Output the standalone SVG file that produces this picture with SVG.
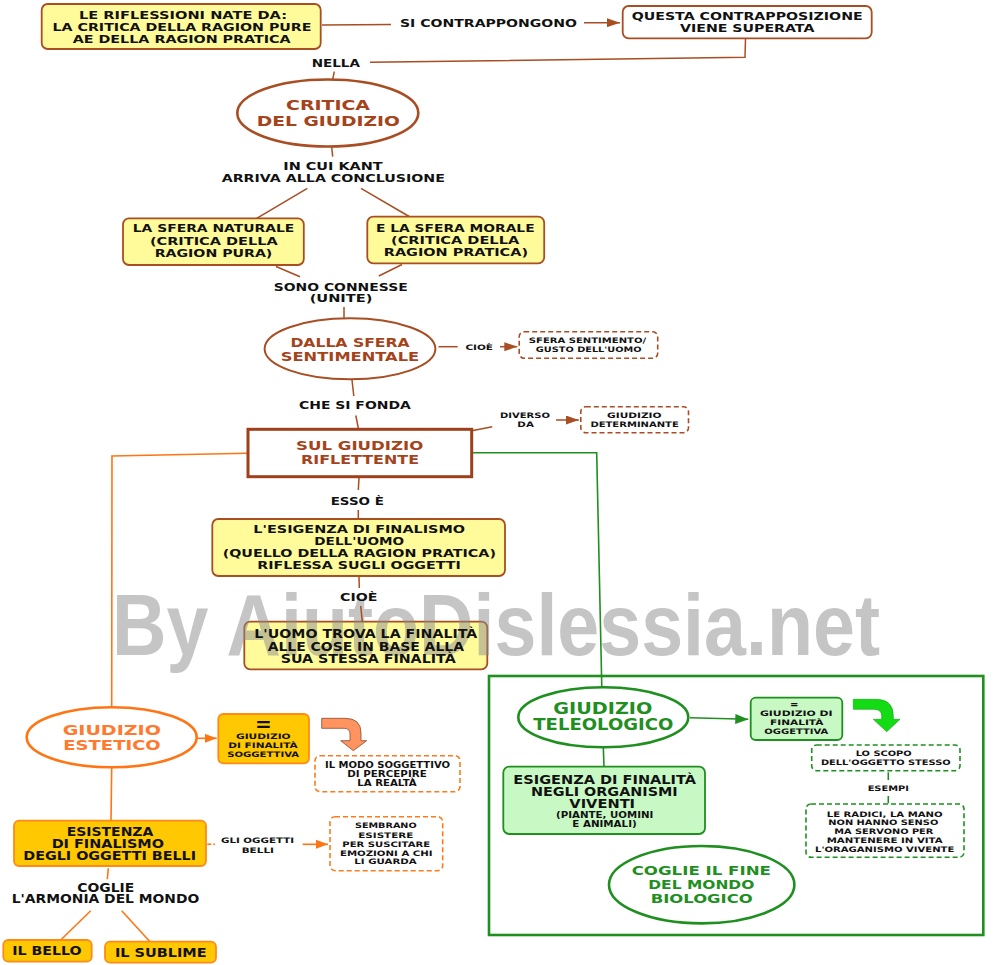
<svg xmlns="http://www.w3.org/2000/svg" width="994" height="965" viewBox="0 0 994 965">
<style>
text{font-family:"DejaVu Sans",Verdana,sans-serif;font-weight:bold;text-anchor:middle;fill:#111}
.s11{font-size:11px}.s10{font-size:10.5px}.s115{font-size:11.5px}.s12{font-size:12px}.s13{font-size:13px}.s8{font-size:8px}.s75{font-size:7.5px}
.br{fill:#A5431A}.or{fill:#FF7A2E}.gr{fill:#1F8F1F}
.yb{fill:#FFFB9B;stroke:#A94D22;stroke-width:1.8}
.wb{fill:#fff;stroke:#A94D22;stroke-width:1.8}
.bd{fill:#fff;stroke:#A94D22;stroke-width:1.6;stroke-dasharray:5 3}
.gb{fill:#FFC800;stroke:#FF8A1A;stroke-width:1.8}
.od{fill:#fff;stroke:#FF7A1A;stroke-width:1.6;stroke-dasharray:5 3}
.lg{fill:#C8F8C4;stroke:#1F8F1F;stroke-width:1.8}
.gd{fill:#fff;stroke:#1F8F1F;stroke-width:1.6;stroke-dasharray:5 3}
.lb{fill:none;stroke:#A94D22;stroke-width:1.5}
.lo{fill:none;stroke:#FF7514;stroke-width:1.6}
.lgn{fill:none;stroke:#1F8F1F;stroke-width:1.6}
.wm{font-family:"Liberation Sans",Arial,sans-serif;font-size:88px;text-anchor:start;fill:#8C8C8C;opacity:0.5}
</style>
<defs>
<marker id="ab" viewBox="0 0 10 10" refX="10" refY="5" markerWidth="13" markerHeight="9" markerUnits="userSpaceOnUse" orient="auto" preserveAspectRatio="none"><path d="M0,0 L10,5 L0,10 z" fill="#A94D22"/></marker>
<marker id="ao" viewBox="0 0 10 10" refX="10" refY="5" markerWidth="12" markerHeight="9" markerUnits="userSpaceOnUse" orient="auto" preserveAspectRatio="none"><path d="M0,0 L10,5 L0,10 z" fill="#FF7514"/></marker>
<marker id="ag" viewBox="0 0 10 10" refX="10" refY="5" markerWidth="13" markerHeight="10" markerUnits="userSpaceOnUse" orient="auto" preserveAspectRatio="none"><path d="M0,0 L10,5 L0,10 z" fill="#1F8F1F"/></marker>
</defs>
<rect width="994" height="965" fill="#fff"/>

<g id="uomo-finalita">
<rect class="yb" x="244.3" y="621.7" width="243" height="47.6" rx="6"/>
<text class="wm" x="112" y="655" textLength="768" lengthAdjust="spacingAndGlyphs">By AiutoDislessia.net</text>
<text class="s115" x="365.8" y="638.3" textLength="223" lengthAdjust="spacingAndGlyphs">L'UOMO TROVA LA FINALITÀ</text>
<text class="s115" x="365.8" y="650.7" textLength="196.3" lengthAdjust="spacingAndGlyphs">ALLE COSE IN BASE ALLA</text>
<text class="s115" x="368.2" y="662.7" textLength="175" lengthAdjust="spacingAndGlyphs">SUA STESSA FINALITÀ</text>
</g>

<g id="connectors">
<polyline class="lb" points="322,25 391,24.5"/>
<line class="lb" x1="584" y1="22.7" x2="620" y2="22.7" marker-end="url(#ab)"/>
<polyline class="lb" points="745.5,38.5 745,57.3 370,62.3"/>
<line class="lb" x1="334.3" y1="71.7" x2="332.7" y2="79.3"/>
<line class="lb" x1="331.7" y1="147" x2="332.7" y2="156.7"/>
<line class="lb" x1="307.3" y1="188.3" x2="256.7" y2="218.3"/>
<line class="lb" x1="361" y1="188.3" x2="410" y2="217"/>
<line class="lb" x1="276" y1="266.5" x2="300" y2="276.7"/>
<line class="lb" x1="402" y1="264.5" x2="378.8" y2="276"/>
<line class="lb" x1="344" y1="307" x2="344" y2="318.3"/>
<line class="lb" x1="438.5" y1="346.7" x2="457.7" y2="346.7"/>
<line class="lb" x1="500" y1="346.7" x2="517.3" y2="346.7" marker-end="url(#ab)"/>
<line class="lb" x1="352" y1="380" x2="353.8" y2="396"/>
<line class="lb" x1="355.8" y1="415.5" x2="358.5" y2="429"/>
<line class="lb" x1="473" y1="430.5" x2="492.3" y2="426.7"/>
<line class="lb" x1="556" y1="420" x2="578.8" y2="420" marker-end="url(#ab)"/>
<line class="lb" x1="359" y1="478" x2="358.3" y2="490"/>
<line class="lb" x1="358.3" y1="510" x2="358.3" y2="519"/>
<line class="lb" x1="359" y1="576.7" x2="359.3" y2="588"/>
<line class="lb" x1="360.7" y1="606" x2="362.3" y2="621.7"/>
<polyline class="lo" points="247,453.3 112,456 111.7,707.3"/>
<polyline class="lgn" points="471.7,452.7 596.7,452.7 601.8,687.3"/>
<line class="lo" x1="197.5" y1="738.3" x2="216.7" y2="738.3" marker-end="url(#ao)"/>
<line class="lo" x1="111.7" y1="767.3" x2="111" y2="820.7"/>
<line class="lo" x1="207.3" y1="844.3" x2="215" y2="844.3" stroke-dasharray="4 2"/>
<line class="lo" x1="302.7" y1="844.3" x2="328" y2="844.3" marker-end="url(#ao)"/>
<line class="lo" x1="108.3" y1="868.3" x2="107.3" y2="879.3"/>
<line class="lo" x1="90.7" y1="910.7" x2="60.7" y2="940"/>
<line class="lo" x1="121.7" y1="910.7" x2="150" y2="941.7"/>
<line class="lgn" x1="690" y1="717.7" x2="748.3" y2="719.3" marker-end="url(#ag)"/>
<line class="lgn" x1="888.3" y1="772.3" x2="888.3" y2="780"/>
<line class="lgn" x1="888.3" y1="796" x2="888.3" y2="803.3"/>
<line class="lgn" x1="603.3" y1="747.3" x2="604" y2="766.7"/>
<path d="M321.7,718.3 L345,718.3 Q361,718.3 361,733 L361,740.7 L366.7,740.7 L353.3,750.7 L340.7,740.7 L350,740.7 L350,734 Q350,728.3 344,728.3 L321.7,728.3 Z" fill="#FF9460" stroke="#8A4A2A" stroke-width="0.8"/>
<path d="M853.3,699.3 L876,699.3 Q893.3,699.3 893.3,716 L893.3,719.3 L900,719.3 L886.7,731.7 L873.3,719.3 L881.7,719.3 L881.7,716 Q881.7,709.3 874,709.3 L853.3,709.3 Z" fill="#14DC14" stroke="#0BA00B" stroke-width="0.6"/>
<text class="s11" x="488.5" y="27.3" textLength="177" lengthAdjust="spacingAndGlyphs">SI CONTRAPPONGONO</text>
<text class="s11" x="335.8" y="66.5" textLength="48.3" lengthAdjust="spacingAndGlyphs">NELLA</text>
<text class="s11" x="333" y="170" textLength="99.4" lengthAdjust="spacingAndGlyphs">IN CUI KANT</text>
<text class="s11" x="333.3" y="182.3" textLength="223.3" lengthAdjust="spacingAndGlyphs">ARRIVA ALLA CONCLUSIONE</text>
<text class="s11" x="340.7" y="290.7" textLength="133.9" lengthAdjust="spacingAndGlyphs">SONO CONNESSE</text>
<text class="s11" x="341" y="302.3" textLength="62.7" lengthAdjust="spacingAndGlyphs">(UNITE)</text>
<text class="s75" x="479.2" y="350" textLength="27.6" lengthAdjust="spacingAndGlyphs">CIOÈ</text>
<text class="s11" x="354.9" y="409.3" textLength="111.8" lengthAdjust="spacingAndGlyphs">CHE SI FONDA</text>
<text class="s75" x="525" y="418.3" textLength="50" lengthAdjust="spacingAndGlyphs">DIVERSO</text>
<text class="s75" x="525.6" y="427.3" textLength="16.5" lengthAdjust="spacingAndGlyphs">DA</text>
<text class="s11" x="357.3" y="504.5" textLength="53.3" lengthAdjust="spacingAndGlyphs">ESSO È</text>
<text class="s11" x="358.7" y="601" textLength="37.3" lengthAdjust="spacingAndGlyphs">CIOÈ</text>
<text class="s75" x="257.5" y="843.3" textLength="73" lengthAdjust="spacingAndGlyphs">GLI OGGETTI</text>
<text class="s75" x="257.8" y="852.7" textLength="32.3" lengthAdjust="spacingAndGlyphs">BELLI</text>
<text class="s115" x="105.8" y="891.7" textLength="57" lengthAdjust="spacingAndGlyphs">COGLIE</text>
<text class="s115" x="105.5" y="903.3" textLength="187.6" lengthAdjust="spacingAndGlyphs">L'ARMONIA DEL MONDO</text>
<text class="s75" x="888.3" y="790.7" textLength="41.3" lengthAdjust="spacingAndGlyphs">ESEMPI</text>
</g>

<g id="riflessioni">
<rect class="yb" x="41.7" y="4" width="279" height="45" rx="6"/>
<text class="s11" x="183" y="19" textLength="208" lengthAdjust="spacingAndGlyphs">LE RIFLESSIONI NATE DA:</text>
<text class="s11" x="182" y="30.7" textLength="259" lengthAdjust="spacingAndGlyphs">LA CRITICA DELLA RAGION PURE</text>
<text class="s11" x="181.7" y="42.7" textLength="218" lengthAdjust="spacingAndGlyphs">AE DELLA RAGION PRATICA</text>
</g>
<g id="contrapposizione">
<rect class="wb" x="622.7" y="6" width="249" height="32.3" rx="6"/>
<text class="s10" x="747.2" y="20" textLength="231" lengthAdjust="spacingAndGlyphs">QUESTA CONTRAPPOSIZIONE</text>
<text class="s10" x="747.2" y="32.3" textLength="134.3" lengthAdjust="spacingAndGlyphs">VIENE SUPERATA</text>
</g>
<g id="critica-giudizio">
<ellipse cx="327.8" cy="113" rx="90.5" ry="33.5" fill="#fff" stroke="#A94D22" stroke-width="2.6"/>
<text class="br" style="font-size:14.5px" x="328" y="110" textLength="84" lengthAdjust="spacingAndGlyphs">CRITICA</text>
<text class="br" style="font-size:14.5px" x="328.3" y="125.7" textLength="143.3" lengthAdjust="spacingAndGlyphs">DEL GIUDIZIO</text>
</g>
<g id="sfera-naturale">
<rect class="yb" x="123" y="218.3" width="180.8" height="46.7" rx="6"/>
<text class="s11" x="213.5" y="232.3" textLength="161.5" lengthAdjust="spacingAndGlyphs">LA SFERA NATURALE</text>
<text class="s11" x="213.8" y="245" textLength="127.7" lengthAdjust="spacingAndGlyphs">(CRITICA DELLA</text>
<text class="s11" x="213.5" y="257.3" textLength="117.7" lengthAdjust="spacingAndGlyphs">RAGION PURA)</text>
</g>
<g id="sfera-morale">
<rect class="yb" x="367.3" y="216.7" width="176.9" height="46.6" rx="6"/>
<text class="s11" x="455.3" y="231.7" textLength="158.6" lengthAdjust="spacingAndGlyphs">E LA SFERA MORALE</text>
<text class="s11" x="455.1" y="244" textLength="128.2" lengthAdjust="spacingAndGlyphs">(CRITICA DELLA</text>
<text class="s11" x="455.9" y="256" textLength="144.2" lengthAdjust="spacingAndGlyphs">RAGION PRATICA)</text>
</g>
<g id="sfera-sentimentale">
<ellipse cx="350" cy="348.8" rx="85.4" ry="30.5" fill="#fff" stroke="#A94D22" stroke-width="2"/>
<text class="br" style="font-size:12.5px" x="350" y="346.7" textLength="119.2" lengthAdjust="spacingAndGlyphs">DALLA SFERA</text>
<text class="br" style="font-size:12.5px" x="350" y="361" textLength="138.4" lengthAdjust="spacingAndGlyphs">SENTIMENTALE</text>
</g>
<g id="sentimento-gusto">
<rect class="bd" x="519.2" y="331.7" width="138.5" height="26.6" rx="5"/>
<text class="s75" x="587.5" y="343.3" textLength="117.4" lengthAdjust="spacingAndGlyphs">SFERA SENTIMENTO/</text>
<text class="s75" x="588.7" y="352.3" textLength="105.7" lengthAdjust="spacingAndGlyphs">GUSTO DELL'UOMO</text>
</g>
<g id="giudizio-determinante">
<rect class="bd" x="580.8" y="406.7" width="107.7" height="26" rx="5"/>
<text class="s75" x="634.3" y="418.3" textLength="54.5" lengthAdjust="spacingAndGlyphs">GIUDIZIO</text>
<text class="s75" x="634.6" y="427.3" textLength="88.4" lengthAdjust="spacingAndGlyphs">DETERMINANTE</text>
</g>
<g id="giudizio-riflettente">
<rect x="248" y="429.3" width="223.7" height="47.4" fill="#fff" stroke="#A0401A" stroke-width="3"/>
<text class="br s13" x="359.7" y="450" textLength="127.3" lengthAdjust="spacingAndGlyphs">SUL GIUDIZIO</text>
<text class="br s13" x="360" y="464" textLength="118" lengthAdjust="spacingAndGlyphs">RIFLETTENTE</text>
</g>
<g id="esigenza-finalismo">
<rect class="yb" x="212.3" y="519" width="292.7" height="57" rx="6"/>
<text class="s10" x="359.2" y="533.3" textLength="211.7" lengthAdjust="spacingAndGlyphs">L'ESIGENZA DI FINALISMO</text>
<text class="s10" x="359.2" y="545" textLength="89.7" lengthAdjust="spacingAndGlyphs">DELL'UOMO</text>
<text class="s10" x="359.3" y="557.3" textLength="273.3" lengthAdjust="spacingAndGlyphs">(QUELLO DELLA RAGION PRATICA)</text>
<text class="s10" x="359" y="569.3" textLength="203.4" lengthAdjust="spacingAndGlyphs">RIFLESSA SUGLI OGGETTI</text>
</g>

<g id="giudizio-estetico">
<ellipse cx="111.7" cy="737.3" rx="85" ry="30" fill="#fff" stroke="#FF7514" stroke-width="2.6"/>
<text class="or" style="font-size:14px" x="111.8" y="735" textLength="98.3" lengthAdjust="spacingAndGlyphs">GIUDIZIO</text>
<text class="or" style="font-size:14px" x="112" y="750" textLength="97.4" lengthAdjust="spacingAndGlyphs">ESTETICO</text>
</g>
<g id="finalita-soggettiva">
<rect class="gb" x="218.3" y="714" width="90.7" height="49.3" rx="5"/>
<text style="font-size:20px" x="263.3" y="730.5">=</text>
<text class="s75" x="263.3" y="739.3" textLength="54.7" lengthAdjust="spacingAndGlyphs">GIUDIZIO</text>
<text class="s75" x="263" y="747.7" textLength="69.4" lengthAdjust="spacingAndGlyphs">DI FINALITÀ</text>
<text class="s75" x="263.2" y="756.7" textLength="71.7" lengthAdjust="spacingAndGlyphs">SOGGETTIVA</text>
</g>
<g id="modo-soggettivo">
<rect class="od" x="315" y="755.7" width="145" height="36" rx="5"/>
<text class="s8" x="387.5" y="767.7" textLength="125" lengthAdjust="spacingAndGlyphs">IL MODO SOGGETTIVO</text>
<text class="s8" x="387" y="776.7" textLength="79.4" lengthAdjust="spacingAndGlyphs">DI PERCEPIRE</text>
<text class="s8" x="387" y="785.7" textLength="59.4" lengthAdjust="spacingAndGlyphs">LA REALTÀ</text>
</g>
<g id="esistenza-finalismo">
<rect class="gb" x="14" y="820.7" width="192" height="45.3" rx="5"/>
<text class="s12" x="110" y="835.7" textLength="86.6" lengthAdjust="spacingAndGlyphs">ESISTENZA</text>
<text class="s12" x="107.8" y="847.7" textLength="112.3" lengthAdjust="spacingAndGlyphs">DI FINALISMO</text>
<text class="s12" x="109.7" y="860" textLength="172.7" lengthAdjust="spacingAndGlyphs">DEGLI OGGETTI BELLI</text>
</g>
<g id="sembrano-esistere">
<rect class="od" x="330" y="816.7" width="112.7" height="54" rx="5"/>
<text class="s75" x="385.8" y="828.3" textLength="61.7" lengthAdjust="spacingAndGlyphs">SEMBRANO</text>
<text class="s75" x="385.8" y="837.7" textLength="55" lengthAdjust="spacingAndGlyphs">ESISTERE</text>
<text class="s75" x="386.2" y="846.7" textLength="87.7" lengthAdjust="spacingAndGlyphs">PER SUSCITARE</text>
<text class="s75" x="386.3" y="855.7" textLength="92.7" lengthAdjust="spacingAndGlyphs">EMOZIONI A CHI</text>
<text class="s75" x="385.5" y="864.3" textLength="62.4" lengthAdjust="spacingAndGlyphs">LI GUARDA</text>
</g>
<g id="il-bello">
<rect class="gb" x="3.3" y="940" width="88.4" height="21.7" rx="5"/>
<text class="s115" x="47" y="955" textLength="69.4" lengthAdjust="spacingAndGlyphs">IL BELLO</text>
</g>
<g id="il-sublime">
<rect class="gb" x="105" y="941.7" width="111" height="21" rx="5"/>
<text class="s115" x="160.8" y="956.7" textLength="91.7" lengthAdjust="spacingAndGlyphs">IL SUBLIME</text>
</g>

<g id="area-teleologica">
<rect x="489" y="676" width="494.3" height="259" fill="none" stroke="#1F8F1F" stroke-width="2.6"/>
</g>
<g id="giudizio-teleologico">
<ellipse cx="603.3" cy="717.3" rx="85" ry="30" fill="#fff" stroke="#1F8F1F" stroke-width="2.6"/>
<text class="gr" style="font-size:15px" x="602.8" y="714.3" textLength="99" lengthAdjust="spacingAndGlyphs">GIUDIZIO</text>
<text class="gr" style="font-size:15px" x="603.3" y="730" textLength="140" lengthAdjust="spacingAndGlyphs">TELEOLOGICO</text>
</g>
<g id="finalita-oggettiva">
<rect class="lg" x="750.7" y="697.7" width="91.6" height="42.3" rx="5"/>
<text style="font-size:10px" x="794.3" y="708.3">=</text>
<text class="s75" x="796.3" y="716" textLength="72.7" lengthAdjust="spacingAndGlyphs">GIUDIZIO DI</text>
<text class="s75" x="796.7" y="725" textLength="53.3" lengthAdjust="spacingAndGlyphs">FINALITÀ</text>
<text class="s75" x="796.3" y="734" textLength="64" lengthAdjust="spacingAndGlyphs">OGGETTIVA</text>
</g>
<g id="scopo-oggetto">
<rect class="gd" x="811.7" y="745" width="148.3" height="25.7" rx="5"/>
<text class="s75" x="883.7" y="756" textLength="56" lengthAdjust="spacingAndGlyphs">LO SCOPO</text>
<text class="s75" x="885.8" y="765" textLength="129.7" lengthAdjust="spacingAndGlyphs">DELL'OGGETTO STESSO</text>
</g>
<g id="esempi-radici">
<rect class="gd" x="806" y="804" width="158" height="53.3" rx="5"/>
<text class="s75" x="884.7" y="816.7" textLength="116" lengthAdjust="spacingAndGlyphs">LE RADICI, LA MANO</text>
<text class="s75" x="883.3" y="825" textLength="110" lengthAdjust="spacingAndGlyphs">NON HANNO SENSO</text>
<text class="s75" x="883.8" y="834" textLength="99" lengthAdjust="spacingAndGlyphs">MA SERVONO PER</text>
<text class="s75" x="884.7" y="842.7" textLength="116" lengthAdjust="spacingAndGlyphs">MANTENERE IN VITA</text>
<text class="s75" x="884.7" y="851.7" textLength="139.3" lengthAdjust="spacingAndGlyphs">L'ORAGANISMO VIVENTE</text>
</g>
<g id="esigenza-organismi">
<rect class="lg" x="503.3" y="766.7" width="201.7" height="67.3" rx="6"/>
<text class="s115" x="604.7" y="784" textLength="182.7" lengthAdjust="spacingAndGlyphs">ESIGENZA DI FINALITÀ</text>
<text class="s115" x="604.3" y="796" textLength="146.7" lengthAdjust="spacingAndGlyphs">NEGLI ORGANISMI</text>
<text class="s115" x="602.2" y="808.3" textLength="65.7" lengthAdjust="spacingAndGlyphs">VIVENTI</text>
<text class="s8" x="604.7" y="817.7" textLength="97.3" lengthAdjust="spacingAndGlyphs">(PIANTE, UOMINI</text>
<text class="s8" x="604.5" y="826.7" textLength="64.4" lengthAdjust="spacingAndGlyphs">E ANIMALI)</text>
</g>
<g id="fine-biologico">
<ellipse cx="701.7" cy="884.7" rx="92.7" ry="38.7" fill="#fff" stroke="#1F8F1F" stroke-width="2.6"/>
<text class="gr s13" x="701.3" y="875" textLength="139.3" lengthAdjust="spacingAndGlyphs">COGLIE IL FINE</text>
<text class="gr s13" x="701.3" y="889" textLength="106" lengthAdjust="spacingAndGlyphs">DEL MONDO</text>
<text class="gr s13" x="701.7" y="902.7" textLength="102" lengthAdjust="spacingAndGlyphs">BIOLOGICO</text>
</g>
</svg>
